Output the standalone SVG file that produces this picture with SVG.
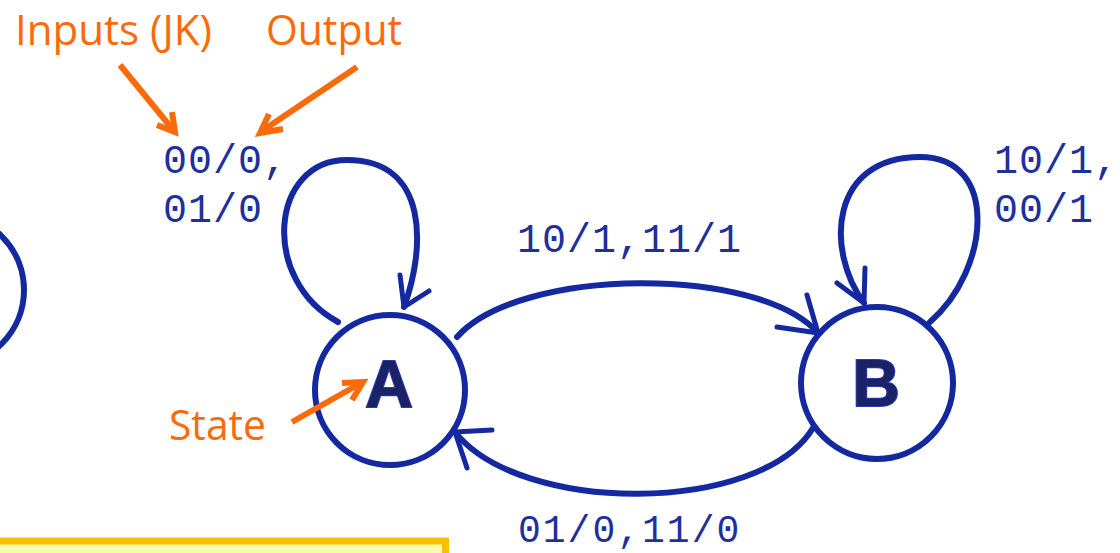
<svg xmlns="http://www.w3.org/2000/svg" width="1120" height="553" viewBox="0 0 1120 553">
<style>
.st{fill:#fff;stroke:#1428a0;stroke-width:6}
.con{fill:none;stroke:#1428a0;stroke-width:6;stroke-linecap:round;stroke-linejoin:round}
.head{fill:none;stroke:#1428a0;stroke-width:5;stroke-linecap:round;stroke-linejoin:round}
.oarr{fill:none;stroke:#f96b0a;stroke-width:6;stroke-linecap:butt;stroke-linejoin:miter}
.olab{font-family:"Open Sans","Liberation Sans",sans-serif;font-size:42px;fill:#f96b0a}
.blab{font-family:"Liberation Mono","DejaVu Sans Mono",monospace;font-size:40px;fill:#1e2f9e;letter-spacing:1px}
.name{font-family:"Liberation Sans","Arial",sans-serif;font-weight:bold;font-size:66px;fill:#1c2266;stroke:#2b3bb0;stroke-width:2;paint-order:stroke;text-anchor:middle}
</style>
<rect id="note" x="-10" y="541" width="455.5" height="30" fill="#f8fbae" stroke="#f9c000" stroke-width="7"/>
<g id="stateLeft"><circle class="st" cx="-52" cy="290" r="76"/></g>
<g id="stateA"><circle class="st" cx="390" cy="390" r="75"/><text class="name" x="389" y="407">A</text></g>
<g id="stateB"><circle class="st" cx="877" cy="383" r="76"/><text class="name" x="876" y="406">B</text></g>
<g id="connectors">
<path class="con" d="M338,322 C260,280 270,160 347,160 C430,160 425,250 404,307"/>
<path class="head" d="M400,275 L404,307 L429,291"/>
<path class="con" d="M930,322 C990,270 1000,157 920,157 C830,157 825,250 864,303"/>
<path class="head" d="M865,268 L864,303 L837,283"/>
<path class="con" d="M457,337 C520,266 760,266 818,333"/>
<path class="head" d="M807,295 L818,333 L777,327"/>
<path class="con" d="M813,428 C760,515 520,515 455,432"/>
<path class="head" d="M492,430 L455,432 L467,468"/>
</g>
<g id="labels">
<text class="blab" x="163" y="173">00/0,</text>
<text class="blab" x="163" y="222">01/0</text>
<text class="blab" x="517" y="252">10/1,11/1</text>
<text class="blab" x="994" y="173">10/1,</text>
<text class="blab" x="994" y="222">00/1</text>
<text class="blab" x="518" y="542" style="font-size:38px;letter-spacing:2px">01/0,11/0</text>
</g>
<g id="annotations">
<text class="olab" x="15" y="45" textLength="197" lengthAdjust="spacingAndGlyphs">Inputs (JK)</text>
<text class="olab" x="266" y="45" textLength="136" lengthAdjust="spacingAndGlyphs">Output</text>
<text class="olab" x="169" y="440" textLength="97" lengthAdjust="spacingAndGlyphs">State</text>
<path class="oarr" d="M120,65 L174,131"/>
<path class="oarr" d="M157,125 L175,132 L172,112"/>
<path class="oarr" d="M357,67 L262,131"/>
<path class="oarr" d="M269,114 L260,133 L283,129"/>
<path class="oarr" d="M292,422 L361,383"/>
<path class="oarr" d="M342,383 L363,382 L352,400"/>
</g>
</svg>
